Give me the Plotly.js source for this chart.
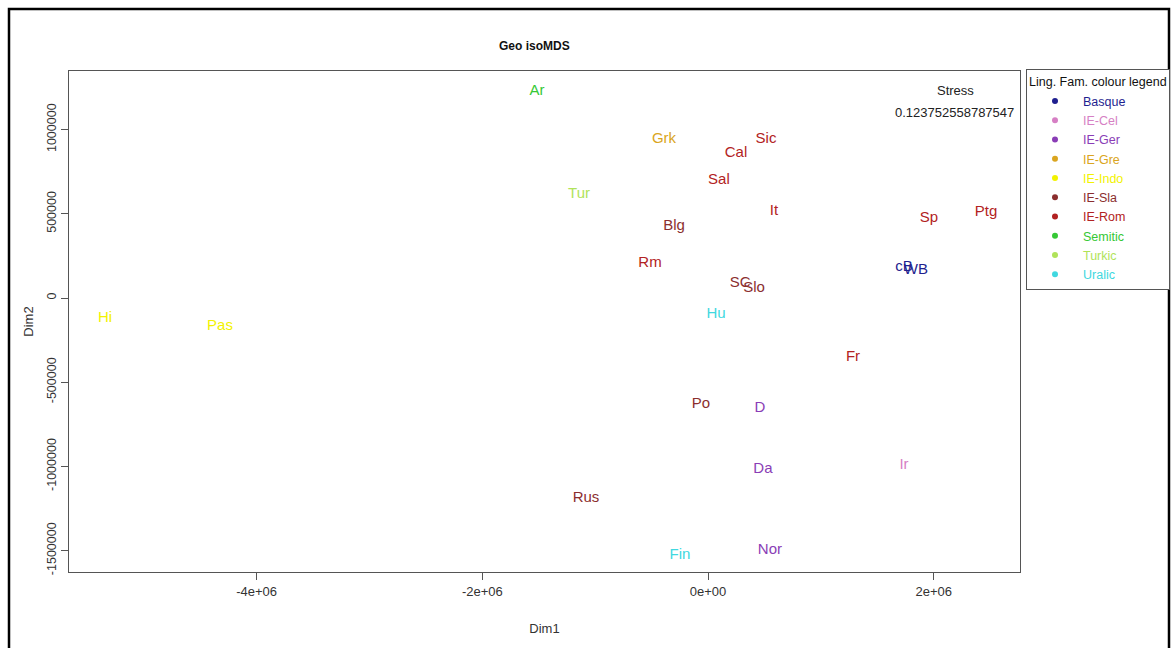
<!DOCTYPE html>
<html>
<head>
<meta charset="utf-8">
<script src="https://cdn.plot.ly/plotly-3.0.1.min.js"></script>
<style>html,body{margin:0;padding:0;background:#fff;}#chart{width:1172px;height:648px;}</style>
</head>
<body>
<div id="chart"></div>
<script>
// Language labels, MDS coordinates (Dim1, Dim2) and family
const labels = ["Ar","Grk","Sic","Cal","Sal","Tur","It","Sp","Ptg","Blg","Rm","cB","WB","SC","Slo","Hu","Hi","Pas","Fr","Po","D","Ir","Da","Rus","Nor","Fin"];
const dim1 = [-1515000,-390000,514000,248000,97000,-1143000,585000,1958000,2464000,-301000,-514000,1737000,1843000,284000,408000,71000,-5344000,-4325000,1285000,-62000,461000,1737000,487000,-1081000,549000,-248000];
const dim2 = [1229000,944000,944000,861000,701000,618000,517000,475000,511000,428000,208000,184000,166000,89000,59000,-95000,-119000,-166000,-350000,-629000,-653000,-992000,-1015000,-1188000,-1496000,-1526000];
const family = ["Semitic","IE-Gre","IE-Rom","IE-Rom","IE-Rom","Turkic","IE-Rom","IE-Rom","IE-Rom","IE-Sla","IE-Rom","Basque","Basque","IE-Sla","IE-Sla","Uralic","IE-Indo","IE-Indo","IE-Rom","IE-Sla","IE-Ger","IE-Cel","IE-Ger","IE-Sla","IE-Ger","Uralic"];
const families = ["Basque","IE-Cel","IE-Ger","IE-Gre","IE-Indo","IE-Sla","IE-Rom","Semitic","Turkic","Uralic"];
const familyColors = ["#1f1f8f","#d67fc4","#8a3db6","#daa520","#f2f200","#8b2e2e","#b22222","#35c835","#b0e35a","#40d8e0"];
const stressValue = "0.123752558787547";

const traces = [];
families.forEach((f,i)=>{
  const idx = labels.map((_,k)=>k).filter(k=>family[k]===f);
  traces.push({
    type:"scatter", mode:"text",
    x: idx.map(k=>dim1[k]), y: idx.map(k=>dim2[k]),
    text: idx.map(k=>labels[k]),
    textposition:"middle center",
    textfont:{family:"Liberation Sans, Arial, sans-serif", size:15, color:familyColors[i]},
    showlegend:false, hoverinfo:"text", legendgroup:f
  });
});
families.forEach((f,i)=>{
  traces.push({
    type:"scatter", mode:"markers",
    x:[null], y:[null],
    name:'<span style="color:'+familyColors[i]+'">'+f+'</span>',
    marker:{color:familyColors[i], size:6},
    showlegend:true, legendgroup:f
  });
});

const L=69, R=1020, T=71, B=572;
const pw=R-L, ph=B-T;
const px = v => (v-L)/pw;
const py = v => (B-v)/ph;

const layout = {
  width:1172, height:648,
  margin:{l:L, r:1172-R, t:T, b:648-B, autoexpand:false},
  paper_bgcolor:"#fff", plot_bgcolor:"#fff",
  font:{family:"Liberation Sans, Arial, sans-serif", size:12, color:"#222"},
  showlegend:true,
  xaxis:{
    range:[-5663000, 2765000],
    tickvals:[-4000000,-2000000,0,2000000],
    ticktext:["-4e+06","-2e+06","0e+00","2e+06"],
    ticks:"outside", ticklen:7, tickcolor:"#555",
    showgrid:false, zeroline:false,
    showline:true, linecolor:"#555", linewidth:1, mirror:true,
    tickfont:{size:13, color:"#333"},
    title:{text:"Dim1", font:{size:13, color:"#333"}, standoff:26}
  },
  yaxis:{
    range:[-1627000, 1348000],
    tickvals:[-1500000,-1000000,-500000,0,500000,1000000],
    ticktext:["-1500000","-1000000","-500000","0","500000","1000000"],
    tickangle:-90,
    ticks:"outside", ticklen:7, tickcolor:"#555",
    showgrid:false, zeroline:false,
    showline:true, linecolor:"#555", linewidth:1, mirror:true,
    tickfont:{size:12.5, color:"#333"},
    title:{text:"Dim2", font:{size:13, color:"#333"}, standoff:8}
  },
  legend:{
    x:px(1026), y:py(69), xanchor:"left", yanchor:"top",
    bordercolor:"#555", borderwidth:1, bgcolor:"#fff",
    font:{size:12.5, color:"#222"},
    title:{text:"Ling. Fam. colour legend", font:{size:12.5, color:"#111"}},
    itemwidth:46, tracegroupgap:0
  },
  annotations:[
    {text:"<b>Geo isoMDS</b>", xref:"paper", yref:"paper", x:px(534), y:py(46), xanchor:"center", yanchor:"middle", showarrow:false, font:{size:12, color:"#111"}},
    {text:"Stress", xref:"paper", yref:"paper", x:px(955), y:py(91), xanchor:"center", yanchor:"middle", showarrow:false, font:{size:13, color:"#222"}},
    {text:stressValue, xref:"paper", yref:"paper", x:px(954), y:py(112), xanchor:"center", yanchor:"middle", showarrow:false, font:{size:13, color:"#222"}}
  ],
  shapes:[
    {type:"rect", xref:"paper", yref:"paper", x0:px(9), x1:px(1169), y0:py(668), y1:py(9), line:{color:"#000", width:2.5}, fillcolor:"rgba(0,0,0,0)", layer:"above"}
  ]
};

Plotly.newPlot("chart", traces, layout, {displayModeBar:false, staticPlot:true});
</script>
</body>
</html>
